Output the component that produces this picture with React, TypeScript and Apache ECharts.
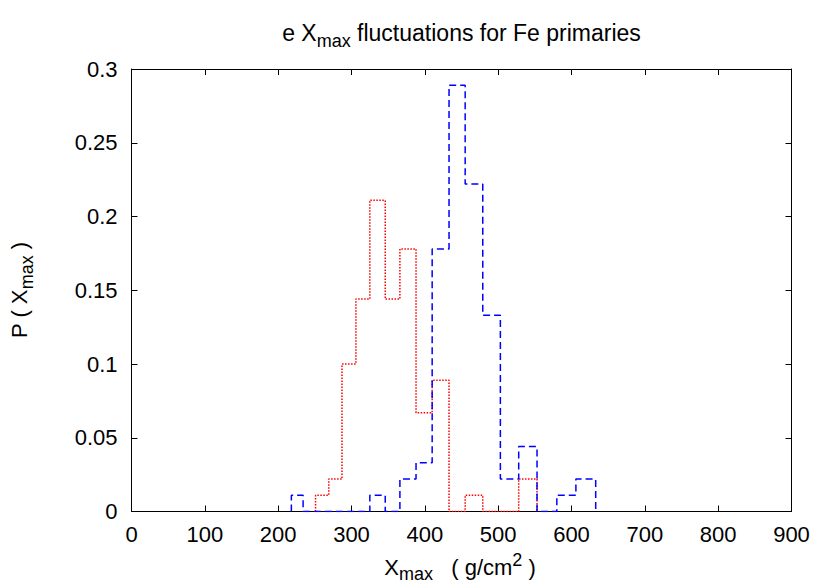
import React, { useEffect, useRef } from "react";
import * as echarts from "echarts";

// Bin edges of Xmax (g/cm^2)
const binEdges = [218, 234, 251, 269, 287, 306, 325, 346, 366, 388, 410, 433, 455, 479, 503, 528, 553, 580, 606, 633];
// Probabilities per bin
const blueDashed = [0.011, 0, 0, 0, 0, 0, 0.011, 0, 0.022, 0.033, 0.178, 0.289, 0.222, 0.133, 0.022, 0.044, 0, 0.011, 0.022];
const redDotted = [0, 0, 0.011, 0.022, 0.1, 0.144, 0.211, 0.144, 0.178, 0.067, 0.089, 0, 0.011, 0, 0, 0.022, 0, 0, 0];

const xMin = 0;
const xMax = 900;
const xStep = 100;
const yMin = 0;
const yMax = 0.3;
const yStep = 0.05;

const FONT = '"Liberation Sans", Arial, Helvetica, sans-serif';

function stepPoints(values: number[]): number[][] {
  let first = values.findIndex((v) => v > 0);
  let last = values.length - 1;
  while (last > 0 && !(values[last] > 0)) last--;
  const pts: number[][] = [[binEdges[first], 0]];
  for (let i = first; i <= last; i++) {
    pts.push([binEdges[i], values[i]]);
    pts.push([binEdges[i + 1], values[i]]);
  }
  pts.push([binEdges[last + 1], 0]);
  return pts;
}

const richFor = (main: number, sub: number, lh: number) => ({
  b: { fontSize: main, fontFamily: FONT, color: "#000", verticalAlign: "middle" },
  s: { fontSize: sub, lineHeight: lh, fontFamily: FONT, color: "#000", verticalAlign: "bottom" },
  p: { fontSize: sub, lineHeight: 12, fontFamily: FONT, color: "#000", verticalAlign: "top" },
});

export default function App() {
  const ref = useRef<HTMLDivElement>(null);
  useEffect(() => {
    if (!ref.current) return;
    const chart = echarts.init(ref.current, null, { renderer: "svg" });
    const axisLine = { show: true, onZero: false, lineStyle: { color: "#000", width: 1 } };
    const tick = { show: true, inside: true, length: 6, lineStyle: { color: "#000", width: 1 } };
    const label = { fontSize: 22, fontFamily: FONT, color: "#000" };
    chart.setOption({
      animation: false,
      backgroundColor: "#fff",
      grid: { left: 131.5, right: 38.5, top: 69, bottom: 69.5, containLabel: false },
      xAxis: [
        {
          type: "value", min: xMin, max: xMax, interval: xStep, position: "bottom",
          axisLine, axisTick: tick, splitLine: { show: false },
          axisLabel: { ...label, margin: 12 },
        },
        {
          type: "value", min: xMin, max: xMax, interval: xStep, position: "top",
          axisLine, axisTick: tick, splitLine: { show: false }, axisLabel: { show: false },
        },
      ],
      yAxis: [
        {
          type: "value", min: yMin, max: yMax, interval: yStep, position: "left",
          axisLine, axisTick: tick, splitLine: { show: false },
          axisLabel: { ...label, margin: 14 },
        },
        {
          type: "value", min: yMin, max: yMax, interval: yStep, position: "right",
          axisLine, axisTick: tick, splitLine: { show: false }, axisLabel: { show: false },
        },
      ],
      series: [
        {
          type: "line", name: "red", data: stepPoints(redDotted), symbol: "none",
          lineStyle: { color: "#ff0000", width: 1.5, type: [1.5, 1.5] },
          z: 2,
        },
        {
          type: "line", name: "blue", data: stepPoints(blueDashed), symbol: "none",
          lineStyle: { color: "#0000ff", width: 1.5, type: [7, 4] },
          z: 3,
        },
      ],
      graphic: [
        {
          type: "text", x: 461.5, y: 33,
          style: {
            text: "{b|e X}{s|max}{b| fluctuations for Fe primaries}",
            align: "center", verticalAlign: "middle",
            rich: richFor(23, 18, 34),
          },
        },
        {
          type: "text", x: 460, y: 567,
          style: {
            text: "{b|X}{s|max}{b|   ( g/cm}{p|2}{b| )}",
            align: "center", verticalAlign: "middle",
            rich: richFor(22, 18, 32),
          },
        },
        {
          type: "text", x: 19.5, y: 290, rotation: Math.PI / 2,
          style: {
            text: "{b|P ( X}{s|max}{b| )}",
            align: "center", verticalAlign: "middle",
            rich: richFor(22, 18, 32),
          },
        },
      ],
    });
    return () => chart.dispose();
  }, []);
  return <div ref={ref} style={{ width: 830, height: 581, position: "absolute", left: 0, top: 0 }} />;
}
